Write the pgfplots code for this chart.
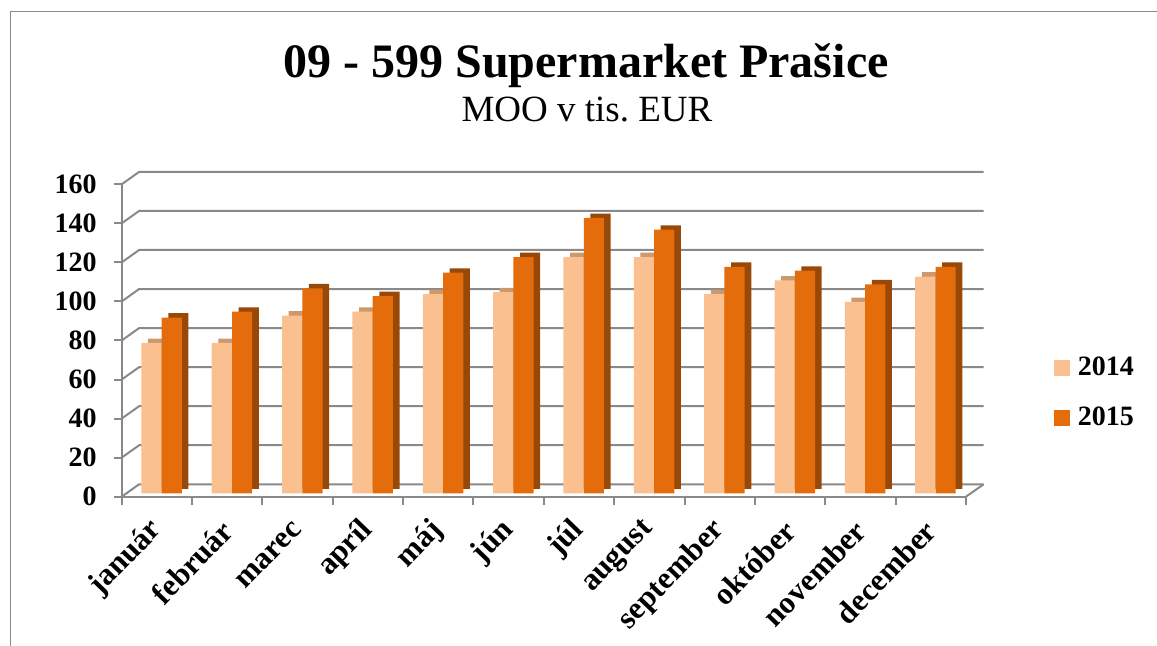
\documentclass[border=0pt]{standalone}
\usepackage{pgfplots}
\pgfplotsset{compat=1.18}
\usepackage{pgfplotstable}
\usepackage{fontspec}
\setmainfont{Liberation Serif}
\frenchspacing
\definecolor{c14}{RGB}{250,192,144}
\definecolor{c14top}{RGB}{205,152,108}
\definecolor{c15}{RGB}{228,108,10}
\definecolor{c15side}{RGB}{152,72,7}
\definecolor{gridc}{RGB}{137,137,137}

\pgfplotstableread{
x y14 y15
0 77 90
1 77 93
2 91 105
3 93 101
4 102 113
5 103 121
6 121 141
7 121 135
8 102 116
9 109 114
10 98 107
11 111 116
}\data

\begin{document}
\begin{tikzpicture}[x=1pt,y=1pt]
\useasboundingbox (0,0) rectangle (578.5,323);
\draw[gridc, line width=0.8pt] (5.25,-2) -- (5.25,317.25) -- (581,317.25);
\node[font=\bfseries\fontsize{24}{24}\selectfont, anchor=base] at (293,284) {09 - 599 Supermarket Prašice};
\node[font=\fontsize{18.5}{18.5}\selectfont, anchor=base] at (293.5,262) {MOO v tis. EUR};
\begin{axis}[
  at={(60.85pt,74.65pt)}, anchor=south west,
  scale only axis, width=422.1pt, height=156.2pt,
  xmin=-0.5, xmax=11.5, ymin=0, ymax=160,
  clip=false,
  axis x line*=bottom, axis y line*=left,
  axis line style={gridc, line width=1pt, -},
  tick align=outside,
  tick style={gridc, line width=1pt},
  major tick length=4pt,
  xtick={-0.5,0.5,...,11.5}, xticklabels={},
  extra x ticks={0,...,11},
  extra x tick labels={január,február,marec,apríl,máj,jún,júl,august,september,október,november,december},
  extra x tick style={major tick length=0pt, tick label style={xshift=2.5pt, yshift=-12pt, rotate=46, anchor=east}},
  x tick label style={font=\bfseries\fontsize{15.5}{15.5}\selectfont},
  ytick={0,20,...,160},
  y tick label style={font=\bfseries\fontsize{14}{14}\selectfont, xshift=-5pt},
  /pgf/number format/assume math mode=true,
  legend style={at={(1.104,0.332)}, anchor=west, draw=none, fill=none, inner sep=0pt, row sep=10pt, font=\bfseries\fontsize{14}{14}\selectfont, nodes={inner xsep=4pt}},
  legend cell align=left,
]
\pgfplotsinvokeforeach{0,20,...,160}{
  \draw[gridc, line width=1pt] (axis cs:-0.5,#1) -- ++(8.7pt,6.2pt) -- ([shift={(8.9pt,6.2pt)}]axis cs:11.5,#1);
}
\draw[gridc, line width=1pt] (axis cs:11.5,0) -- ++(8.9pt,6.2pt);
\addplot[ybar, bar width=10.1pt, bar shift=-2.7pt, fill=c14top, draw=none, forget plot, xshift=3.3pt, yshift=3.9pt] table[x=x,y=y14]{\data};
\addplot[ybar, bar width=10.1pt, bar shift=-2.7pt, fill=c14, draw=none, forget plot, yshift=1.7pt] table[x=x,y=y14]{\data};
\addplot[ybar, bar width=10.1pt, bar shift=7.45pt, fill=c15side, draw=none, forget plot, xshift=3.3pt, yshift=3.9pt] table[x=x,y=y15]{\data};
\addplot[ybar, bar width=10.1pt, bar shift=7.45pt, fill=c15, draw=none, forget plot, yshift=1.7pt] table[x=x,y=y15]{\data};
\addlegendimage{legend image code/.code={\fill[c14] (0pt,-3.75pt) rectangle (7.5pt,3.75pt);}}
\addlegendentry{2014}
\addlegendimage{legend image code/.code={\fill[c15] (0pt,-3.75pt) rectangle (7.5pt,3.75pt);}}
\addlegendentry{2015}
\end{axis}
\end{tikzpicture}
\end{document}
